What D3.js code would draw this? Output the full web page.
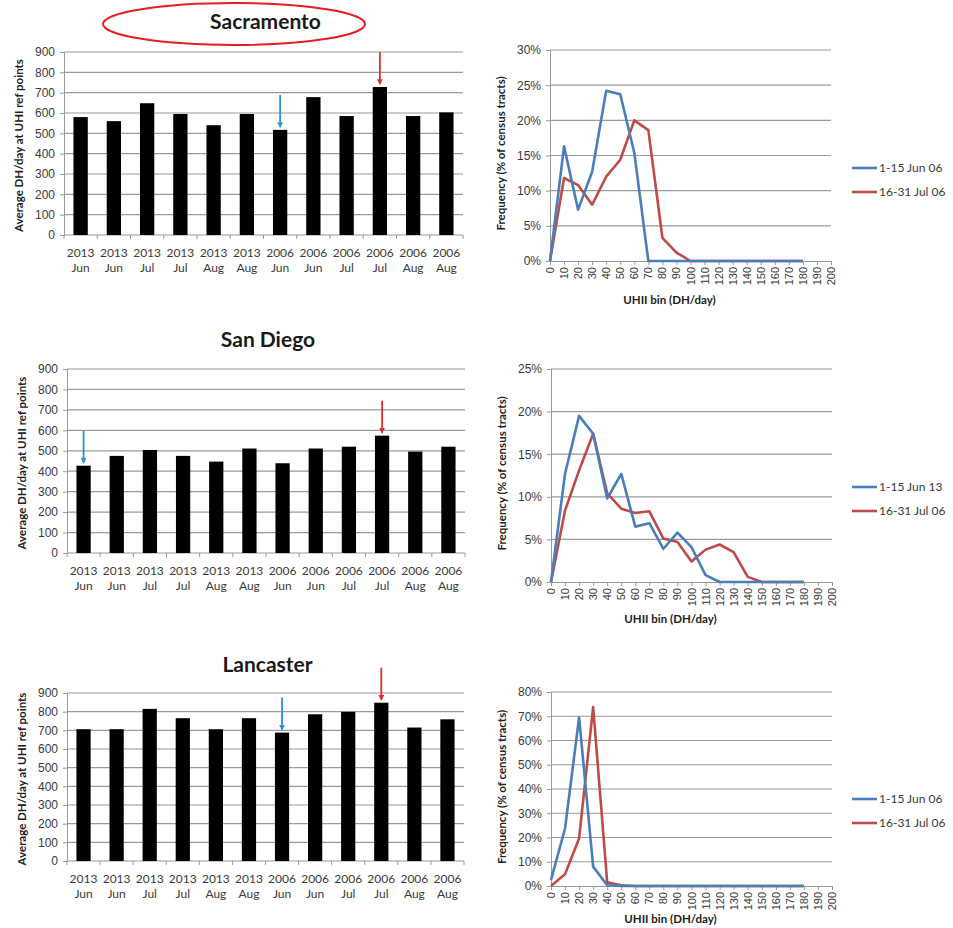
<!DOCTYPE html>
<html>
<head>
<meta charset="utf-8">
<script src="https://cdn.jsdelivr.net/npm/d3@7"></script>
<style>
  body { margin: 0; background: #fff; }
  svg { font-family: Lato, "Open Sans", sans-serif; }
  .tick-lbl { fill: #3a3a3a; font-size: 12px; }
  .ax-title { fill: #222; font-size: 11.5px; font-weight: bold; }
  .city { fill: #1a1a1a; font-size: 21px; font-weight: bold; }
</style>
</head>
<body>
<svg id="chart" width="953" height="928"></svg>
<script>
// bar charts: average DH/day per period
var periodYears = ['2013', '2013', '2013', '2013', '2013', '2013', '2006', '2006', '2006', '2006', '2006', '2006'];
var periodMonths = ['Jun', 'Jun', 'Jul', 'Jul', 'Aug', 'Aug', 'Jun', 'Jun', 'Jul', 'Jul', 'Aug', 'Aug'];
var barTicks = [0, 100, 200, 300, 400, 500, 600, 700, 800, 900];

var sacramentoBars = [580, 560, 648, 595, 540, 595, 517, 678, 585, 728, 585, 603];
var sanDiegoBars = [427, 475, 504, 475, 447, 511, 439, 511, 520, 574, 496, 520];
var lancasterBars = [706, 706, 815, 765, 706, 765, 688, 786, 799, 848, 715, 759];

// histograms: frequency (%) per UHII bin
var bins = d3.range(0, 201, 10);
var sacramentoJun06 = [0, 16.3, 7.3, 12.7, 24.2, 23.7, 15.4, 0, 0, 0, 0, 0, 0, 0, 0, 0, 0, 0, 0];
var sacramentoJul06 = [0, 11.8, 10.8, 8.0, 12.0, 14.4, 20.0, 18.6, 3.3, 1.2, 0, 0, 0, 0, 0, 0, 0, 0, 0];
var sanDiegoJun13 = [0, 12.7, 19.5, 17.4, 9.8, 12.7, 6.5, 6.9, 3.9, 5.8, 4.1, 0.8, 0, 0, 0, 0, 0, 0, 0];
var sanDiegoJul06 = [0, 8.4, 13.1, 17.4, 10.4, 8.6, 8.1, 8.3, 5.1, 4.7, 2.4, 3.8, 4.4, 3.5, 0.6, 0, 0, 0, 0];
var lancasterJun06 = [2.5, 23.7, 69.5, 8.0, 0.3, 0, 0, 0, 0, 0, 0, 0, 0, 0, 0, 0, 0, 0, 0];
var lancasterJul06 = [0, 4.9, 19.6, 73.8, 1.5, 0.3, 0, 0, 0, 0, 0, 0, 0, 0, 0, 0, 0, 0, 0];

var lineBlue = '#4a7ebb', lineRed = '#be4b48';
var arrowBlue = '#2f8fd0', arrowRed = '#e0302b';

var svg = d3.select('#chart');

svg.append('defs').selectAll('marker')
    .data([['headBlue', arrowBlue], ['headRed', arrowRed]])
    .enter().append('marker')
    .attr('id', d => d[0])
    .attr('viewBox', '0 0 10 10')
    .attr('refX', 8).attr('refY', 5)
    .attr('markerWidth', 3.2).attr('markerHeight', 3.2)
    .attr('orient', 'auto')
    .append('path')
    .attr('d', 'M0,0 L10,5 L0,10 z')
    .attr('fill', d => d[1]);

function barChart(p) {
    var g = svg.append('g');
    var x = d3.scaleBand().domain(d3.range(12)).range([p.x0, p.x1]);
    var y = d3.scaleLinear().domain([0, 900]).range([p.yb, p.yt]);

    // gridlines
    g.selectAll('.grid').data(barTicks.slice(1)).enter().append('line')
        .attr('x1', p.x0).attr('x2', p.x1)
        .attr('y1', d => y(d)).attr('y2', d => y(d))
        .attr('stroke', '#9a9a9a').attr('stroke-width', 1.2);

    // y axis
    var ya = g.append('g').attr('transform', `translate(${p.x0},0)`)
        .call(d3.axisLeft(y).tickValues(barTicks).tickSize(4).tickPadding(5));
    ya.select('.domain').attr('stroke', '#9a9a9a');
    ya.selectAll('.tick line').attr('stroke', '#9a9a9a');
    ya.selectAll('.tick text').attr('class', 'tick-lbl').attr('font-family', null).attr('font-size', null);

    // x axis line + ticks between categories
    g.append('line').attr('x1', p.x0).attr('x2', p.x1).attr('y1', p.yb).attr('y2', p.yb)
        .attr('stroke', '#9a9a9a').attr('stroke-width', 1.2);
    g.selectAll('.xt').data(d3.range(13)).enter().append('line')
        .attr('x1', d => p.x0 + d * x.step()).attr('x2', d => p.x0 + d * x.step())
        .attr('y1', p.yb).attr('y2', p.yb + 4).attr('stroke', '#9a9a9a');

    // bars
    var bw = x.bandwidth() * 0.43;
    g.selectAll('.bar').data(p.values).enter().append('rect')
        .attr('x', (d, i) => x(i) + x.bandwidth() / 2 - bw / 2)
        .attr('y', d => y(d))
        .attr('width', bw)
        .attr('height', d => y(0) - y(d))
        .attr('fill', '#000');

    // category labels
    var lbl = g.selectAll('.cat').data(d3.range(12)).enter().append('text')
        .attr('class', 'tick-lbl').attr('text-anchor', 'middle')
        .attr('x', i => x(i) + x.bandwidth() / 2);
    lbl.append('tspan').attr('x', i => x(i) + x.bandwidth() / 2).attr('y', p.yb + 22).text(i => periodYears[i]);
    lbl.append('tspan').attr('x', i => x(i) + x.bandwidth() / 2).attr('y', p.yb + 37).text(i => periodMonths[i]);

    // axis title
    g.append('text').attr('class', 'ax-title').attr('text-anchor', 'middle')
        .attr('transform', `translate(${p.x0 - 41},${(p.yt + p.yb) / 2 + 2}) rotate(-90)`)
        .text('Average DH/day at UHI ref points');

    // city title
    g.append('text').attr('class', 'city').attr('text-anchor', 'middle')
        .attr('x', (p.x0 + p.x1) / 2 + 2).attr('y', p.titleY + 7)
        .text(p.title);

    // arrows
    p.arrows.forEach(a => {
        var cx = x(a.i) + x.bandwidth() / 2;
        var tip = y(p.values[a.i]) - 3;
        g.append('line')
            .attr('x1', cx).attr('x2', cx)
            .attr('y1', tip - 32).attr('y2', tip)
            .attr('stroke', a.color).attr('stroke-width', 1.8)
            .attr('marker-end', a.color === arrowBlue ? 'url(#headBlue)' : 'url(#headRed)');
    });
    return g;
}

function histChart(p) {
    var g = svg.append('g');
    var x = d3.scaleLinear().domain([0, 200]).range([p.x0, p.x1]);
    var y = d3.scaleLinear().domain([0, p.max]).range([p.yb, p.yt]);
    var ticks = d3.range(0, p.max + 0.001, p.step);

    g.selectAll('.grid').data(ticks.slice(1)).enter().append('line')
        .attr('x1', p.x0).attr('x2', p.x1)
        .attr('y1', d => y(d)).attr('y2', d => y(d))
        .attr('stroke', '#9a9a9a').attr('stroke-width', 1.2);

    var ya = g.append('g').attr('transform', `translate(${p.x0},0)`)
        .call(d3.axisLeft(y).tickValues(ticks).tickSize(4).tickPadding(5).tickFormat(d => d + '%'));
    ya.select('.domain').attr('stroke', '#9a9a9a');
    ya.selectAll('.tick line').attr('stroke', '#9a9a9a');
    ya.selectAll('.tick text').attr('class', 'tick-lbl').attr('font-family', null).attr('font-size', null);

    var xa = g.append('g').attr('transform', `translate(0,${p.yb})`)
        .call(d3.axisBottom(x).tickValues(bins).tickSize(4).tickPadding(2));
    xa.select('.domain').attr('stroke', '#9a9a9a');
    xa.selectAll('.tick line').attr('stroke', '#9a9a9a');
    xa.selectAll('.tick text').attr('class', 'tick-lbl').attr('font-family', null).attr('font-size', null)
        .style('font-size', '11px')
        .attr('text-anchor', 'end').attr('dy', '0.32em')
        .attr('transform', 'translate(0,4) rotate(-90)').attr('y', 0).attr('x', -2);

    var line = d3.line().x((d, i) => x(bins[i])).y(d => y(d));
    [[p.red, lineRed], [p.blue, lineBlue]].forEach(s => {
        g.append('path').datum(s[0]).attr('d', line)
            .attr('fill', 'none').attr('stroke', s[1]).attr('stroke-width', 2.6)
            .attr('stroke-linejoin', 'round');
    });

    g.append('text').attr('class', 'ax-title').attr('text-anchor', 'middle')
        .attr('transform', `translate(${p.x0 - 45},${(p.yt + p.yb) / 2 - 2}) rotate(-90)`)
        .text('Frequency (% of census tracts)');
    g.append('text').attr('class', 'ax-title').attr('text-anchor', 'middle')
        .attr('x', (p.x0 + p.x1) / 2 - 21).attr('y', p.titleY)
        .text('UHII bin (DH/day)');

    var leg = g.selectAll('.leg').data(p.legend).enter().append('g')
        .attr('transform', (d, i) => `translate(852,${p.legY + i * 24})`);
    leg.append('line').attr('x1', 0).attr('x2', 25).attr('stroke', d => d[1]).attr('stroke-width', 2.6);
    leg.append('text').attr('class', 'tick-lbl').attr('x', 27).attr('dy', '0.35em').text(d => d[0]);
}

// red ellipse around the first title
svg.append('ellipse').attr('cx', 234).attr('cy', 24).attr('rx', 131).attr('ry', 21)
    .attr('fill', 'none').attr('stroke', '#e31e24').attr('stroke-width', 2);

barChart({ x0: 64, x1: 463, yt: 52, yb: 235, titleY: 22, title: 'Sacramento', values: sacramentoBars,
    arrows: [{ i: 6, color: arrowBlue }, { i: 9, color: arrowRed }] });
barChart({ x0: 67, x1: 465, yt: 369, yb: 553, titleY: 340, title: 'San Diego', values: sanDiegoBars,
    arrows: [{ i: 0, color: arrowBlue }, { i: 9, color: arrowRed }] });
barChart({ x0: 67, x1: 464, yt: 693, yb: 861, titleY: 665, title: 'Lancaster', values: lancasterBars,
    arrows: [{ i: 6, color: arrowBlue }, { i: 9, color: arrowRed }] });

histChart({ x0: 550, x1: 831, yt: 50, yb: 261, max: 30, step: 5, blue: sacramentoJun06, red: sacramentoJul06,
    titleY: 304, legY: 168, legend: [['1-15 Jun 06', lineBlue], ['16-31 Jul 06', lineRed]] });
histChart({ x0: 551, x1: 832, yt: 369, yb: 582, max: 25, step: 5, blue: sanDiegoJun13, red: sanDiegoJul06,
    titleY: 623, legY: 487, legend: [['1-15 Jun 13', lineBlue], ['16-31 Jul 06', lineRed]] });
histChart({ x0: 551, x1: 832, yt: 692, yb: 886, max: 80, step: 10, blue: lancasterJun06, red: lancasterJul06,
    titleY: 923, legY: 799, legend: [['1-15 Jun 06', lineBlue], ['16-31 Jul 06', lineRed]] });
</script>
</body>
</html>
